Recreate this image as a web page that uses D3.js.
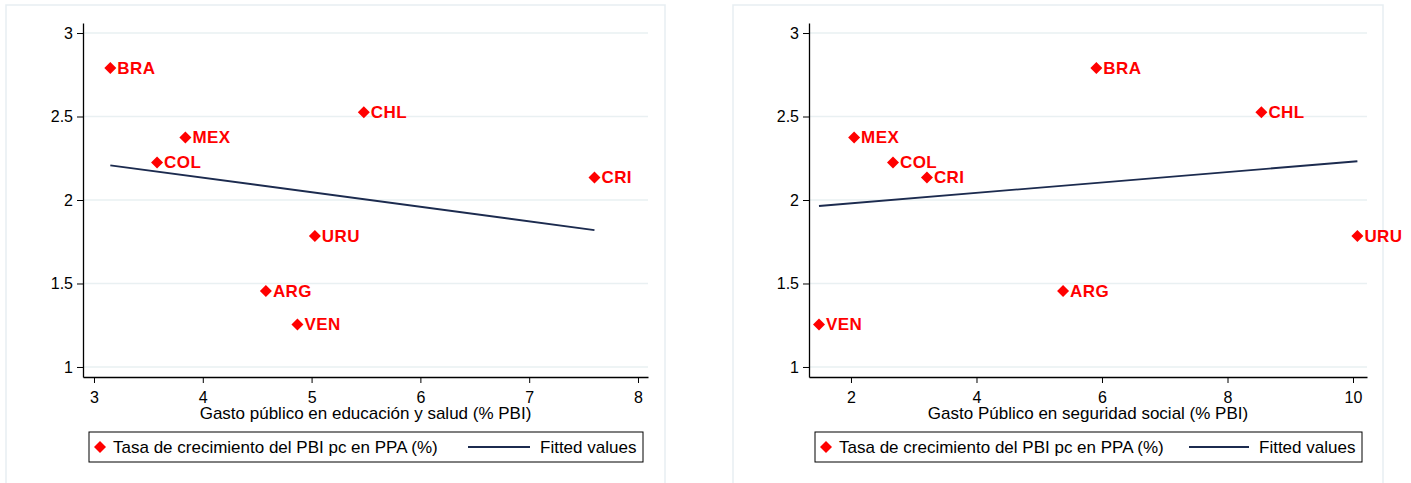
<!DOCTYPE html>
<html>
<head>
<meta charset="utf-8">
<script src="https://cdn.jsdelivr.net/npm/d3@7"></script>
<style>
  body { margin: 0; background: #fff; }
  svg { display: block; font-family: "Liberation Sans", Arial, sans-serif; }
</style>
</head>
<body>
<svg id="chart" width="1411" height="483"></svg>
<script>
// data
const countries = ["BRA", "MEX", "COL", "CHL", "CRI", "URU", "ARG", "VEN"];
const growth = [2.79, 2.375, 2.225, 2.525, 2.135, 1.785, 1.455, 1.255];
const eduHealth = [3.15, 3.84, 3.58, 5.48, 7.6, 5.03, 4.58, 4.87];
const socialSec = [5.91, 2.05, 2.67, 8.54, 3.21, 10.07, 5.38, 1.49];
const fitEdu = [[3.15, 2.208], [7.6, 1.82]];
const fitSoc = [[1.49, 1.964], [10.07, 2.232]];
const yTicks = [1, 1.5, 2, 2.5, 3];
const xTicksEdu = [3, 4, 5, 6, 7, 8];
const xTicksSoc = [2, 4, 6, 8, 10];
const legendLabels = ["Tasa de crecimiento del PBI pc en PPA (%)", "Fitted values"];

const RED = "#ff0000";
const NAVY = "#1c2b4f";
const GRID = "#e9f0f2";

const svg = d3.select("#chart");

const panels = [
  {
    box: [6, 5, 659], plot: { left: 83, right: 648 },
    xDomain: [2.899, 8.092], xTicks: xTicksEdu, xVals: eduHealth, fit: fitEdu,
    title: "Gasto público en educación y salud (% PBI)",
    legend: { left: 89, right: 643, lineX: [468, 530] }
  },
  {
    box: [733, 5, 650], plot: { left: 809, right: 1367 },
    xDomain: [1.331, 10.223], xTicks: xTicksSoc, xVals: socialSec, fit: fitSoc,
    title: "Gasto Público en seguridad social (% PBI)",
    legend: { left: 815, right: 1362, lineX: [1189, 1249] }
  }
];

const PLOT_TOP = 23;
const PLOT_BOTTOM = 377;

function diamond(g, cx, cy, r) {
  g.append("path")
    .attr("d", `M${cx},${cy - r}L${cx + r},${cy}L${cx},${cy + r}L${cx - r},${cy}Z`)
    .attr("fill", RED);
}

panels.forEach((p) => {
  const g = svg.append("g");

  // panel outline
  g.append("rect")
    .attr("x", p.box[0])
    .attr("y", p.box[1])
    .attr("width", p.box[2])
    .attr("height", 520)
    .attr("fill", "#fff")
    .attr("stroke", "#e7eef2")
    .attr("stroke-width", 1.5);

  const x = d3.scaleLinear().domain(p.xDomain).range([p.plot.left, p.plot.right]);
  const y = d3.scaleLinear().domain([0.94, 3.06]).range([PLOT_BOTTOM, PLOT_TOP]);

  // gridlines
  g.selectAll(".grid")
    .data(yTicks)
    .join("line")
    .attr("x1", p.plot.left)
    .attr("x2", p.plot.right)
    .attr("y1", (d) => y(d))
    .attr("y2", (d) => y(d))
    .attr("stroke", GRID)
    .attr("stroke-width", 1.5);

  // axes
  const yAxis = g.append("g")
    .attr("transform", `translate(${p.plot.left},0)`)
    .call(d3.axisLeft(y).tickValues(yTicks).tickFormat(d3.format("")).tickSize(6).tickSizeOuter(0).tickPadding(4));
  const xAxis = g.append("g")
    .attr("transform", `translate(0,${PLOT_BOTTOM})`)
    .call(d3.axisBottom(x).tickValues(p.xTicks).tickFormat(d3.format("d")).tickSize(6).tickSizeOuter(0).tickPadding(9));

  [yAxis, xAxis].forEach((a) => {
    a.attr("font-family", null).attr("font-size", null);
    a.selectAll("text").style("font-size", "16px").attr("fill", "#000");
    a.selectAll("line").attr("stroke", "#000");
    a.select(".domain").attr("stroke", "#000").attr("stroke-width", 1.3);
  });

  // axis title
  g.append("text")
    .attr("x", (p.plot.left + p.plot.right) / 2)
    .attr("y", 419)
    .attr("text-anchor", "middle")
    .style("font-size", "17px")
    .text(p.title);

  // fitted line
  g.append("path")
    .datum(p.fit)
    .attr("d", d3.line().x((d) => x(d[0])).y((d) => y(d[1])))
    .attr("fill", "none")
    .attr("stroke", NAVY)
    .attr("stroke-width", 1.8);

  // points + labels
  countries.forEach((c, i) => {
    const cx = x(p.xVals[i]);
    const cy = y(growth[i]);
    diamond(g, cx, cy, 6);
    g.append("text")
      .attr("x", cx + 7)
      .attr("y", cy + 6)
      .attr("fill", RED)
      .style("font-size", "17px")
      .style("font-weight", "bold")
      .style("letter-spacing", "0.4px")
      .text(c);
  });

  // legend
  const lg = g.append("g");
  lg.append("rect")
    .attr("x", p.legend.left)
    .attr("y", 432)
    .attr("width", p.legend.right - p.legend.left)
    .attr("height", 30)
    .attr("fill", "#fff")
    .attr("stroke", "#000")
    .attr("stroke-width", 1);
  diamond(lg, p.legend.left + 11, 447, 6);
  lg.append("text")
    .attr("x", p.legend.left + 24)
    .attr("y", 453)
    .style("font-size", "17px")
    .text(legendLabels[0]);
  lg.append("line")
    .attr("x1", p.legend.lineX[0])
    .attr("x2", p.legend.lineX[1])
    .attr("y1", 447)
    .attr("y2", 447)
    .attr("stroke", NAVY)
    .attr("stroke-width", 1.8);
  lg.append("text")
    .attr("x", p.legend.lineX[1] + 10)
    .attr("y", 453)
    .style("font-size", "17px")
    .text(legendLabels[1]);
});
</script>
</body>
</html>
